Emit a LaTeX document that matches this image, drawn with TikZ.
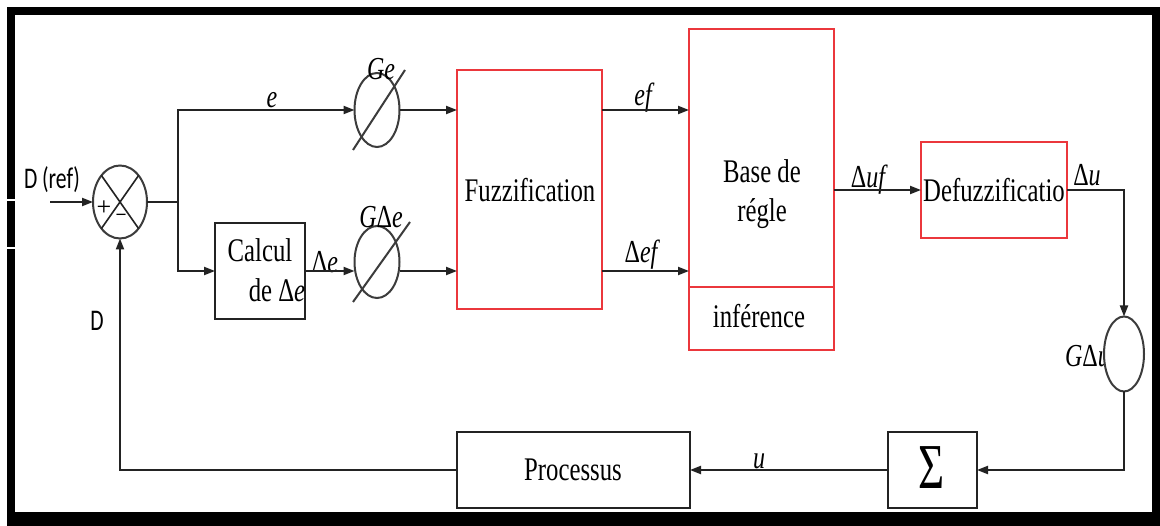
\documentclass[tikz,border=0pt]{standalone}
\usepackage{fontspec}
\setmainfont{Liberation Serif}
\newfontfamily\carl{Carlito}
\usetikzlibrary{arrows.meta,shapes.geometric}
\definecolor{linec}{RGB}{35,35,35}
\definecolor{circc}{RGB}{60,60,60}
\definecolor{boxred}{RGB}{235,55,60}
\newcommand\sq[2][0.75]{\scalebox{#1}[1]{#2}}
\tikzset{
 box/.style={draw=linec,line width=2pt,inner sep=0pt,outer sep=0pt},
 rbox/.style={draw=boxred,line width=2pt,inner sep=0pt,outer sep=0pt},
 gain/.style={ellipse,draw=circc,line width=2pt,inner sep=0pt,outer sep=0pt},
 conn/.style={draw=linec,line width=2pt},
 arr/.style={conn,-{Triangle[length=11pt,width=8pt]}},
 txt/.style={inner sep=0pt,font=\fontsize{33}{36}\selectfont},
 lab/.style={inner sep=0pt,font=\fontsize{32}{34}\selectfont\itshape},
 sans/.style={inner sep=0pt,font=\carl\fontsize{30}{32}\selectfont},
}
\begin{document}
\begin{tikzpicture}[x=1pt,y=-1pt]
\useasboundingbox (0,0) rectangle (1160,526);
% frame
\fill[black] (7,7) rectangle (1160,526);
\fill[white] (15,15) rectangle (1152,512);
\draw[white,line width=2pt] (0,200) -- (15,200);
\draw[white,line width=2pt] (0,248) -- (15,248);

% blocks
\node[gain,minimum width=54pt,minimum height=73pt] (sum) at (120,202) {};
\draw[conn,line width=1.6pt] (sum.55) -- (sum.235);
\draw[conn,line width=1.6pt] (sum.125) -- (sum.-55);
\node[inner sep=0pt,font=\fontsize{26}{28}\selectfont] (plus) at (104,208) {+};
\node[inner sep=0pt,font=\fontsize{26}{28}\selectfont] (minus) at (121,219) {\sq{−}};

\node[box,minimum width=90pt,minimum height=96pt] (calc) at (260,271) {};
\node[txt] (calcA) at (260,250) {\sq{Calcul}};
\node[txt] (calcB) at (277,290) {\sq{de \textup{Δ}\textit{e}}};

\node[gain,minimum width=45pt,minimum height=74pt] (ge) at (377,110) {};
\draw[conn,draw=circc] ([shift={(-24,40)}]ge.center) -- ([shift={(28,-40)}]ge.center);
\node[gain,minimum width=45pt,minimum height=72pt] (gde) at (377,262) {};
\draw[conn,draw=circc] ([shift={(-24,40)}]gde.center) -- ([shift={(33,-40)}]gde.center);

\node[rbox,minimum width=145pt,minimum height=239pt] (fuzz) at (529.5,189.5) {};
\node[txt] (fuzzT) at (530,190) {\sq{Fuzzification}};

\node[rbox,minimum width=145pt,minimum height=258pt] (base) at (761.5,158) {};
\node[rbox,minimum width=145pt,minimum height=63pt] (inf) at (761.5,318.5) {};
\node[txt] (baseA) at (762,171) {\sq{Base de}};
\node[txt] (baseB) at (762,214) {\sq{régle}};
\node[txt] (infT) at (759,316) {\sq{inférence}};

\node[rbox,minimum width=146pt,minimum height=96pt] (defz) at (994,190) {};
\node[txt] (defzT) at (994,190) {\sq{Defuzzificatio}};

\node[lab,anchor=east] (gdul) at (1110,356) {\sq{G\textup{Δ}u}};
\node[gain,minimum width=40pt,minimum height=75pt,fill=white] (gdu) at (1124,354) {};

\node[box,minimum width=89pt,minimum height=76pt] (sig) at (932.5,470) {};
\node[inner sep=0pt,font=\fontsize{64}{66}\selectfont] (sigT) at (932,468) {\sq[0.7]{Σ}};
\node[box,minimum width=233pt,minimum height=76pt] (proc) at (573.5,470) {};
\node[txt] (procT) at (573,470) {\sq{Processus}};

% labels
\node[sans] (dref) at (52,180) {\sq[0.72]{D (ref)}};
\node[sans] (dl) at (97,321) {\sq[0.72]{D}};
\node[lab] (le) at (272,100) {\sq{e}};
\node[lab] (lde) at (325,262) {\sq{\textup{Δ}e}};
\node[lab] (lge) at (381,69) {\sq{Ge}};
\node[lab] (lgde) at (381,217) {\sq{G\textup{Δ}e}};
\node[lab] (lef) at (643,98) {\sq{ef}};
\node[lab] (ldef) at (641,255) {\sq{\textup{Δ}ef}};
\node[lab] (lduf) at (868,180) {\sq{\textup{Δ}uf}};
\node[lab] (ldu) at (1087,175) {\sq{\textup{Δ}u}};
\node[lab] (lu) at (759,461) {\sq{u}};

% connectors
\coordinate (in) at (50,202);
\draw[arr] (in) -- (sum.west);
\coordinate (br) at (178,202);
\draw[conn] (sum.east) -- (br);
\draw[arr] (br) |- (ge.west);
\draw[arr] (br) |- (calc.west);
\draw[arr] (calc.east) -- (calc.east -| gde.west);
\draw[arr] (ge.east) -- (fuzz.west |- ge.east);
\draw[arr] (gde.east |- calc.east) -- (fuzz.west |- calc.east);
\draw[arr] (fuzz.east |- ge.east) -- (base.west |- ge.east);
\draw[arr] (fuzz.east |- calc.east) -- (base.west |- calc.east);
\draw[arr] (base.east |- defz.west) -- (defz.west);
\draw[arr] (defz.east) -| (gdu.north);
\draw[arr] (gdu.south) |- (sig.east);
\draw[arr] (sig.west) -- (proc.east);
\draw[arr] (proc.west) -| (sum.south);
\end{tikzpicture}
\end{document}
